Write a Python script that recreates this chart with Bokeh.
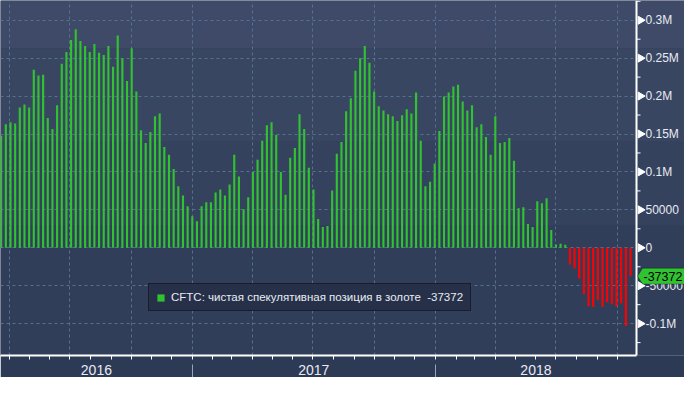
import math
import pandas as pd
from bokeh.plotting import figure
from bokeh.models import (ColumnDataSource, FixedTicker, DatetimeAxis, Span,
                          Range1d, Legend, LegendItem, PolyAnnotation, Label, BoxAnnotation)
from bokeh.embed import file_html
from bokeh.resources import INLINE

# ---------------- data ----------------
first_week = "2016-03-20"
values_k = [
    147.8, 163.0, 165.6, 164.0, 185.0, 189.0, 185.0, 234.8, 227.0, 228.0,
    171.0, 156.5, 188.0, 242.6, 258.0, 274.0, 288.0, 272.6, 266.0, 258.0,
    268.7, 257.0, 254.0, 266.0, 238.7, 280.0, 250.0, 220.0, 263.0, 206.0,
    155.0, 138.0, 152.6, 173.5, 177.0, 133.0, 122.6, 104.0, 81.0, 69.0,
    54.8, 41.7, 35.0, 54.8, 60.0, 60.0, 73.0, 77.0, 69.0, 83.5,
    122.6, 94.0, 50.9, 66.5, 100.0, 116.0, 141.0, 161.7, 165.6, 148.7,
    100.0, 70.0, 118.7, 131.7, 176.0, 156.5, 105.6, 77.0, 37.8, 27.4,
    28.7, 75.6, 123.9, 139.6, 180.0, 197.0, 233.5, 250.0, 266.0, 243.9,
    206.0, 186.5, 181.0, 176.0, 173.5, 167.0, 174.8, 182.6, 177.0, 204.8,
    141.0, 81.0, 87.0, 111.0, 154.0, 199.6, 204.8, 212.6, 215.0, 193.0,
    181.0, 187.8, 159.0, 163.0, 146.0, 122.6, 173.5, 138.0, 139.6, 144.8,
    114.8, 52.0, 53.5, 31.3, 27.4, 61.3, 58.7, 65.2, 23.5, 4.3,
    5.2, 3.9, -22.0, -27.4, -40.4, -61.3, -77.0, -78.0, -69.0, -78.0,
    -71.7, -74.3, -77.0, -73.0, -103.0,
]
last_value = -37372
series_name = "CFTC: чистая спекулятивная позиция в золоте"

y_ticks = [-100000, -50000, 0, 50000, 100000, 150000, 200000, 250000, 300000]
y_tick_labels = ["-0.1M", "-50000", "0", "50000", "0.1M", "0.15M", "0.2M", "0.25M", "0.3M"]
y_minor = [-125000, -75000, -25000, 25000, 75000, 125000, 175000, 225000, 275000, 325000]
years = ["2016", "2017", "2018"]
year_starts = ["2016-01-01", "2017-01-01", "2018-01-01", "2019-01-01"]
x_start, x_end = "2016-03-19", "2018-10-30"
y_min, y_max = -142000, 326000

# ---------------- layout constants ----------------
W, H = 684, 377
AXIS_PX = 636          # where the value axis sits, in frame pixels
FONT = "Liberation Sans"
TXT = "#e8ebf3"
GREEN = "#31c231"
RED = "#ff0000"


def ms(d):
    return pd.Timestamp(d).value // 10**6


dates = pd.date_range(first_week, periods=len(values_k) + 1, freq="7D")
values = [v * 1000 for v in values_k] + [last_value]
colors = [GREEN if v >= 0 else RED for v in values]
src = ColumnDataSource(dict(date=dates, value=values, color=colors))

xs0, xs1 = ms(x_start), ms(x_end)
ms_per_px = (xs1 - xs0) / AXIS_PX
x_far = xs0 + ms_per_px * W
bounds = [ms(d) for d in year_starts]
year_centers = []
for i in range(len(years)):
    a = max(bounds[i], xs0)
    b = min(bounds[i + 1], xs1)
    year_centers.append(int((a + b) // 2))
quarters = [ms(d) for d in pd.date_range("2016-01-01", "2018-12-31", freq="QS")
            if xs0 < ms(d) < xs1]
month_starts = [ms(d) for d in pd.date_range(x_start, x_end, freq="MS")]
sep_ticks = [b for b in bounds if xs0 < b < xs1]

p = figure(width=W, height=H, x_axis_type="datetime", y_axis_location=None,
           x_range=Range1d(xs0, x_far), y_range=Range1d(y_min, y_max),
           output_backend="svg", toolbar_location=None,
           min_border_left=0, min_border_top=0, min_border_right=0, min_border_bottom=20)
p.background_fill_color = "#33405c"
p.border_fill_color = "#2d3a56"
p.outline_line_color = None

# background bands (gradient-like)
for bot, top, col in [(263000, None, "#3e4a67"), (140000, 263000, "#394662"),
                      (30000, 140000, "#35425e"), (None, 30000, "#313e5a")]:
    p.add_layout(BoxAnnotation(bottom=bot, top=top, fill_color=col, fill_alpha=1,
                               line_color=None, level="image"))

r = p.vbar(x="date", top="value", width=3.2 * 86400000, color="color",
           line_color=None, source=src)

# grids
p.xgrid.ticker = FixedTicker(ticks=quarters)
p.ygrid.ticker = FixedTicker(ticks=y_ticks)
p.ygrid.cross_bounds = (xs0, xs1)
for g in (p.xgrid, p.ygrid):
    g.grid_line_color = "#56718f"
    g.grid_line_dash = "3 3"
    g.grid_line_width = 1

# value axis (right side, at the end of the time range)
p.add_layout(Span(location=xs1, dimension="height", line_color="white", line_width=2))
p.scatter(x=[xs1 + 4 * ms_per_px] * len(y_ticks), y=y_ticks, marker="triangle",
          angle=-math.pi / 2, size=8, color="white")
p.scatter(x=[xs1 + 2 * ms_per_px] * len(y_minor), y=y_minor, marker="dash",
          size=4, line_color="white", line_width=1)
p.text(x=[xs1] * len(y_ticks), y=y_ticks, text=y_tick_labels, x_offset=9,
       text_align="left", text_baseline="middle", text_color=TXT,
       text_font={"value": FONT}, text_font_size={"value": "12px"})

# bottom axis with monthly ticks
xa = p.xaxis[0]
xa.bounds = (xs0, xs1)
xa.ticker = FixedTicker(ticks=[], minor_ticks=month_starts)
xa.axis_line_color = "white"
xa.axis_line_width = 2
xa.major_tick_line_color = None
xa.minor_tick_line_color = "white"
xa.minor_tick_out = 0
xa.minor_tick_in = -4
xa.major_label_text_font_size = "0px"
xa.major_label_standoff = 0

# year labels + separators
yax = DatetimeAxis(ticker=FixedTicker(ticks=year_centers, minor_ticks=sep_ticks),
                   axis_line_color=None, major_tick_line_color=None,
                   major_tick_out=0, major_tick_in=0,
                   minor_tick_line_color="#9aa3b5", minor_tick_out=9, minor_tick_in=-32,
                   major_label_standoff=0, major_label_text_color=TXT,
                   major_label_text_font=FONT, major_label_text_font_size="14px")
yax.major_label_overrides = {t: y for t, y in zip(year_centers, years)}
p.add_layout(yax, "below")

# legend
leg = Legend(items=[LegendItem(label=f"{series_name}  {last_value}", renderers=[r], index=0)],
             location=(148, 44), background_fill_color="#263149", background_fill_alpha=1,
             border_line_color="#0a0a0a", border_line_width=1,
             label_text_color=TXT, label_text_font=FONT, label_text_font_size="11.5px",
             glyph_width=9, glyph_height=9, padding=7, spacing=0, margin=0,
             label_standoff=6, label_height=12)
p.add_layout(leg)

# last value tag
h = 10500
p.add_layout(PolyAnnotation(xs=[xs1 + 1 * ms_per_px, xs1 + 6 * ms_per_px, x_far, x_far,
                                xs1 + 6 * ms_per_px],
                            ys=[last_value, last_value + h, last_value + h,
                                last_value - h, last_value - h],
                            fill_color=GREEN, fill_alpha=1, line_color="black", line_width=1))
p.add_layout(Label(x=xs1 + 6 * ms_per_px, y=last_value, x_offset=1, text=str(last_value),
                   text_align="left", text_baseline="middle",
                   text_color="black", text_font=FONT, text_font_size="12.5px"))

open("out.html", "w").write(file_html(p, INLINE))
